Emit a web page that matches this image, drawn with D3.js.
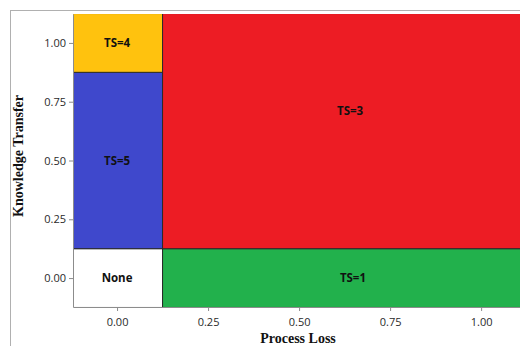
<!DOCTYPE html>
<html><head><meta charset="utf-8">
<script src="https://cdn.jsdelivr.net/npm/d3@7"></script>
<style>html,body{margin:0;padding:0;background:#fff;overflow:hidden}</style>
</head><body>
<script>
// Data
const cellLabels = ["None", "TS=1", "TS=5", "TS=4", "TS=3"];
const cellX0 = [-0.125, 0.125, -0.125, -0.125, 0.125];
const cellX1 = [0.125, 1.25, 0.125, 0.125, 1.25];
const cellY0 = [-0.125, -0.125, 0.125, 0.875, 0.125];
const cellY1 = [0.125, 0.125, 0.875, 1.125, 1.125];
const labelX = [0, 0.648, 0, 0, 0.64];
const labelY = [0, 0, 0.5, 1, 0.71];
const cellColors = ["#ffffff", "#22b14c", "#3f48cc", "#ffc20e", "#ed1c24"];
const xTicks = [0, 0.25, 0.5, 0.75, 1.0];
const yTicks = [0, 0.25, 0.5, 0.75, 1.0];

const W = 520, H = 346;
const svg = d3.select("body").append("svg").attr("width", W).attr("height", H);

// outer frame
svg.append("rect").attr("x", 10.5).attr("y", 10.5).attr("width", 600).attr("height", 400)
  .attr("fill", "none").attr("stroke", "#b0b0b0").attr("stroke-width", 1);

const x = d3.scaleLinear().domain([-0.121, 1.17]).range([73, 543]);
const y = d3.scaleLinear().domain([-0.123, 1.123]).range([307, 14]);

const cells = cellLabels.map((l, i) => ({l, x0: cellX0[i], x1: cellX1[i], y0: cellY0[i], y1: cellY1[i], c: cellColors[i], lx: labelX[i], ly: labelY[i]}));

svg.append("clipPath").attr("id", "pc").append("rect")
  .attr("x", x(-0.121)).attr("y", y(1.123)).attr("width", x(1.17) - x(-0.121)).attr("height", y(-0.123) - y(1.123));

const g = svg.append("g").attr("clip-path", "url(#pc)");
g.selectAll("rect.cell").data(cells).join("rect").attr("class", "cell")
  .attr("x", d => x(d.x0)).attr("y", d => y(d.y1))
  .attr("width", d => x(d.x1) - x(d.x0)).attr("height", d => y(d.y0) - y(d.y1))
  .attr("fill", d => d.c).attr("stroke", "#2a2a2a").attr("stroke-width", 1);

svg.selectAll("text.cl").data(cells).join("text").attr("class", "cl")
  .attr("x", d => x(d.lx)).attr("y", d => y(d.ly)).attr("dy", "0.35em")
  .attr("text-anchor", "middle").attr("font-family", "Open Sans, sans-serif")
  .attr("font-weight", "bold").attr("font-size", 11.5).attr("fill", "#111")
  .text(d => d.l);

// axes
const xa = svg.append("g").attr("transform", `translate(0,${y(-0.123)})`)
  .call(d3.axisBottom(x).tickValues(xTicks).tickFormat(d3.format(".2f")).tickSize(4).tickSizeOuter(0));
const ya = svg.append("g").attr("transform", `translate(${x(-0.121)},0)`)
  .call(d3.axisLeft(y).tickValues(yTicks).tickFormat(d3.format(".2f")).tickSize(4).tickSizeOuter(0));
[xa, ya].forEach(a => {
  a.select(".domain").attr("stroke", "#8c8c8c");
  a.selectAll(".tick line").attr("stroke", "#8c8c8c");
  a.selectAll(".tick text").attr("font-family", "Open Sans, sans-serif").attr("font-size", 11).attr("fill", "#2a2a2a");
});
xa.selectAll(".tick text").attr("dy", "1.1em");

svg.append("text").attr("x", 298).attr("y", 343).attr("text-anchor", "middle")
  .attr("font-family", "Liberation Serif, Times New Roman, serif").attr("font-weight", "bold")
  .attr("font-size", 14).attr("fill", "#111").text("Process Loss");
svg.append("text").attr("transform", "translate(23,156) rotate(-90)").attr("text-anchor", "middle")
  .attr("font-family", "Liberation Serif, Times New Roman, serif").attr("font-weight", "bold")
  .attr("font-size", 14).attr("fill", "#111").text("Knowledge Transfer");
</script>
</body></html>
